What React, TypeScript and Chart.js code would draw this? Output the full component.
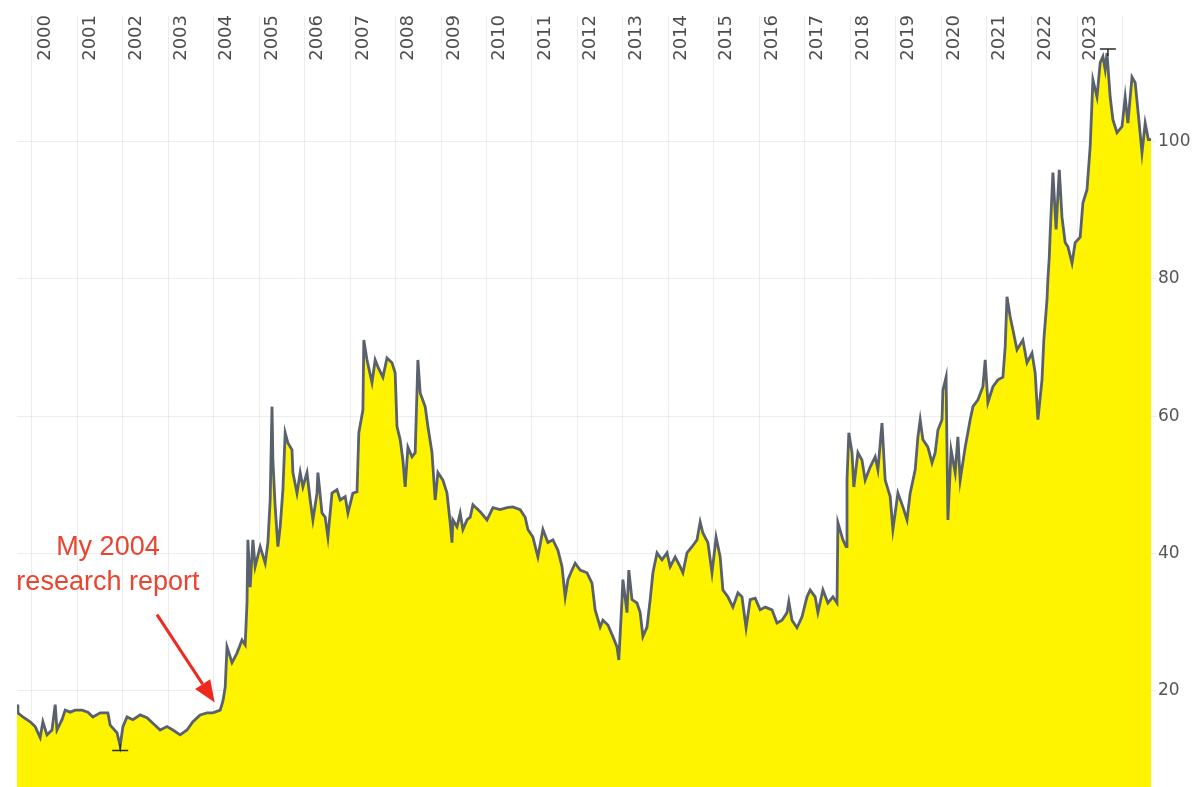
import React, { useEffect, useRef } from "react";
import { Chart, registerables } from "chart.js";

Chart.register(...registerables);

// ---- data (decimal year, price) ----
const dates: number[] = [
  1999.67, 1999.69, 1999.8, 1999.96, 2000.07, 2000.18, 2000.24, 2000.33, 2000.44, 2000.51,
  2000.55, 2000.66, 2000.73, 2000.84, 2000.95, 2001.1, 2001.23, 2001.34, 2001.5, 2001.67,
  2001.72, 2001.87, 2001.94, 2002.0, 2002.09, 2002.22, 2002.38, 2002.53, 2002.66, 2002.82,
  2002.97, 2003.1, 2003.26, 2003.41, 2003.54, 2003.7, 2003.85, 2003.98, 2004.14, 2004.2,
  2004.25, 2004.29, 2004.4, 2004.51, 2004.62, 2004.69, 2004.73, 2004.75, 2004.8, 2004.86,
  2004.91, 2005.02, 2005.13, 2005.19, 2005.24, 2005.28, 2005.3, 2005.35, 2005.41, 2005.46,
  2005.52, 2005.57, 2005.63, 2005.72, 2005.74, 2005.83, 2005.9, 2005.96, 2006.05, 2006.12,
  2006.18, 2006.27, 2006.29, 2006.38, 2006.45, 2006.51, 2006.6, 2006.71, 2006.78, 2006.89,
  2006.95, 2007.06, 2007.15, 2007.19, 2007.28, 2007.3, 2007.37, 2007.48, 2007.55, 2007.61,
  2007.72, 2007.81, 2007.92, 2007.99, 2008.03, 2008.1, 2008.16, 2008.21, 2008.27, 2008.36,
  2008.43, 2008.49, 2008.54, 2008.65, 2008.71, 2008.8, 2008.87, 2008.93, 2009.04, 2009.13,
  2009.2, 2009.24, 2009.26, 2009.35, 2009.42, 2009.48, 2009.57, 2009.64, 2009.7, 2009.86,
  2010.01, 2010.14, 2010.3, 2010.45, 2010.58, 2010.74, 2010.85, 2010.91, 2011.02, 2011.13,
  2011.24, 2011.35, 2011.46, 2011.57, 2011.66, 2011.73, 2011.79, 2011.88, 2011.95, 2012.06,
  2012.21, 2012.32, 2012.39, 2012.5, 2012.56, 2012.67, 2012.78, 2012.87, 2012.91, 2012.98,
  2013.0, 2013.09, 2013.13, 2013.2, 2013.31, 2013.38, 2013.44, 2013.53, 2013.6, 2013.66,
  2013.75, 2013.86, 2013.97, 2014.04, 2014.15, 2014.26, 2014.32, 2014.41, 2014.52, 2014.63,
  2014.7, 2014.76, 2014.87, 2014.96, 2015.05, 2015.14, 2015.2, 2015.31, 2015.42, 2015.53,
  2015.62, 2015.71, 2015.8, 2015.91, 2016.02, 2016.13, 2016.28, 2016.39, 2016.5, 2016.61,
  2016.65, 2016.72, 2016.83, 2016.94, 2017.05, 2017.12, 2017.23, 2017.29, 2017.4, 2017.51,
  2017.62, 2017.71, 2017.73, 2017.84, 2017.91, 2017.93, 2017.97, 2018.04, 2018.08, 2018.17,
  2018.26, 2018.33, 2018.44, 2018.55, 2018.61, 2018.7, 2018.77, 2018.88, 2018.94, 2019.05,
  2019.16, 2019.25, 2019.32, 2019.43, 2019.49, 2019.54, 2019.6, 2019.71, 2019.8, 2019.87,
  2019.93, 2020.02, 2020.04, 2020.11, 2020.15, 2020.22, 2020.31, 2020.37, 2020.42, 2020.53,
  2020.64, 2020.7, 2020.81, 2020.92, 2020.97, 2021.03, 2021.14, 2021.25, 2021.36, 2021.41,
  2021.45, 2021.52, 2021.58, 2021.67, 2021.8, 2021.89, 2022.0, 2022.07, 2022.13, 2022.22,
  2022.26, 2022.33, 2022.35, 2022.38, 2022.4, 2022.46, 2022.53, 2022.6, 2022.66, 2022.73,
  2022.79, 2022.88, 2022.95, 2023.06, 2023.12, 2023.21, 2023.28, 2023.34, 2023.43, 2023.5,
  2023.56, 2023.61, 2023.65, 2023.72, 2023.78, 2023.87, 2023.98, 2024.05, 2024.11, 2024.2,
  2024.27, 2024.33, 2024.42, 2024.49, 2024.56, 2024.62,
];

const prices: number[] = [
  18.0, 16.8, 16.2, 15.5, 14.8, 13.2, 15.5, 13.6, 14.3, 18.0,
  14.3, 15.8, 17.2, 16.9, 17.2, 17.2, 16.9, 16.2, 16.8, 16.8,
  15.0, 13.9, 12.0, 14.8, 16.2, 15.8, 16.5, 16.1, 15.3, 14.3,
  14.8, 14.3, 13.6, 14.3, 15.5, 16.5, 16.8, 16.8, 17.2, 18.5,
  20.5, 26.4, 24.1, 25.5, 27.4, 26.7, 32.8, 42.0, 35.1, 42.0,
  38.1, 41.0, 38.6, 41.6, 47.8, 61.4, 53.6, 46.8, 41.0, 43.9,
  49.3, 57.6, 56.1, 55.1, 51.8, 48.8, 51.8, 49.7, 51.8, 47.8,
  44.9, 48.8, 51.8, 45.9, 45.3, 42.4, 48.8, 49.3, 47.8, 48.3,
  45.9, 48.8, 49.0, 57.6, 60.9, 71.1, 68.2, 64.9, 68.2, 67.2,
  65.7, 68.5, 67.8, 66.3, 58.5, 56.6, 53.6, 49.7, 55.5, 54.1,
  54.7, 68.2, 63.4, 61.4, 58.5, 54.7, 47.8, 51.8, 50.7, 48.8,
  44.5, 41.6, 44.9, 43.9, 45.9, 43.5, 44.9, 45.3, 47.1, 46.1,
  44.9, 46.7, 46.4, 46.7, 46.8, 46.4, 45.3, 43.5, 42.4, 39.5,
  43.5, 41.6, 42.0, 40.5, 38.1, 33.7, 36.2, 37.6, 38.6, 37.6,
  37.2, 35.7, 31.8, 29.3, 30.3, 29.6, 27.9, 26.4, 24.5, 33.3,
  36.2, 31.4, 37.6, 33.3, 32.8, 31.4, 27.9, 29.3, 33.3, 37.2,
  40.1, 39.1, 40.1, 38.1, 39.5, 38.1, 37.2, 40.1, 41.0, 42.0,
  44.6, 43.0, 41.6, 37.2, 42.4, 39.5, 34.7, 33.7, 32.2, 34.3,
  33.7, 29.2, 33.3, 33.5, 31.8, 32.2, 31.8, 29.9, 30.3, 31.4,
  33.0, 30.3, 29.2, 30.8, 33.7, 34.7, 33.7, 31.4, 34.7, 32.8,
  33.7, 32.8, 44.5, 42.0, 41.0, 50.7, 57.6, 54.7, 49.7, 54.7,
  53.6, 50.7, 52.6, 54.1, 52.2, 59.0, 50.7, 48.3, 43.5, 48.8,
  46.8, 44.9, 48.8, 52.2, 57.0, 59.5, 56.6, 55.5, 53.2, 54.7,
  58.0, 59.5, 63.8, 65.7, 44.9, 55.1, 51.8, 57.0, 50.7, 55.5,
  59.5, 61.4, 62.4, 64.3, 68.2, 62.0, 64.3, 65.3, 65.7, 70.1,
  77.4, 74.5, 72.6, 69.7, 71.1, 67.8, 69.2, 66.3, 59.5, 65.3,
  71.1, 77.0, 80.0, 83.2, 86.7, 95.5, 87.2, 95.9, 89.0, 85.3,
  84.7, 82.3, 85.3, 86.1, 91.1, 93.0, 99.3, 109.0, 106.5, 111.5,
  112.4, 110.5, 112.9, 106.5, 103.2, 101.3, 102.2, 106.5, 102.7, 109.4,
  108.6, 104.6, 98.4, 102.7, 100.3, 100.3,
];

const yearLabels: number[] = [
  2000, 2001, 2002, 2003, 2004, 2005, 2006, 2007, 2008, 2009, 2010, 2011,
  2012, 2013, 2014, 2015, 2016, 2017, 2018, 2019, 2020, 2021, 2022, 2023,
];
const gridYears: number[] = [...yearLabels, 2024];
const yTicks: number[] = [20, 40, 60, 80, 100];

// low / high markers (date, value)
const lowMark = { date: 2001.94, value: 11.3 };
const highMark = { date: 2023.67, value: 113.5 };

// annotation (in data units)
const noteLines: string[] = ["My 2004", "research report"];
const noteDate = 2001.67;
const noteValues: number[] = [39.8, 34.7];
const arrowFrom = { date: 2002.75, value: 31.1 };
const arrowTo = { date: 2004.02, value: 18.3 };

const overlay = {
  id: "overlay",
  afterDraw(chart: any) {
    const ctx = chart.ctx as CanvasRenderingContext2D;
    const xs = chart.scales.x;
    const ys = chart.scales.y;

    // year labels, rotated
    ctx.save();
    ctx.fillStyle = "#4d4d4d";
    ctx.font = '18px "DejaVu Sans"';
    ctx.textAlign = "right";
    ctx.textBaseline = "middle";
    for (const yr of yearLabels) {
      const px = xs.getPixelForValue(yr) + 13;
      ctx.save();
      ctx.translate(px, 15);
      ctx.rotate(-Math.PI / 2);
      ctx.fillText(String(yr), 0, 0);
      ctx.restore();
    }
    ctx.restore();

    // low / high markers
    ctx.save();
    ctx.strokeStyle = "#2b2b2b";
    ctx.lineWidth = 1.5;
    const drawMark = (m: { date: number; value: number }, dir: number) => {
      const px = xs.getPixelForValue(m.date);
      const py = ys.getPixelForValue(m.value);
      ctx.beginPath();
      ctx.moveTo(px - 8, py);
      ctx.lineTo(px + 8, py);
      ctx.moveTo(px, py);
      ctx.lineTo(px, py + dir * 7);
      ctx.stroke();
    };
    drawMark(lowMark, -1);
    drawMark(highMark, 1);
    ctx.restore();

    // annotation text
    ctx.save();
    ctx.fillStyle = "#e8442f";
    ctx.font = '27px "Liberation Sans"';
    ctx.textAlign = "center";
    ctx.textBaseline = "alphabetic";
    noteLines.forEach((t, i) => {
      ctx.fillText(t, xs.getPixelForValue(noteDate), ys.getPixelForValue(noteValues[i]));
    });
    ctx.restore();

    // arrow
    const x1 = xs.getPixelForValue(arrowFrom.date);
    const y1 = ys.getPixelForValue(arrowFrom.value);
    const x2 = xs.getPixelForValue(arrowTo.date);
    const y2 = ys.getPixelForValue(arrowTo.value);
    const ang = Math.atan2(y2 - y1, x2 - x1);
    const headLen = 22;
    const headHalf = 9;
    const bx = x2 - headLen * Math.cos(ang);
    const by = y2 - headLen * Math.sin(ang);
    ctx.save();
    ctx.strokeStyle = "#ee2a1e";
    ctx.fillStyle = "#ee2a1e";
    ctx.lineWidth = 3;
    ctx.beginPath();
    ctx.moveTo(x1, y1);
    ctx.lineTo(bx, by);
    ctx.stroke();
    ctx.beginPath();
    ctx.moveTo(x2, y2);
    ctx.lineTo(bx + headHalf * Math.sin(ang), by - headHalf * Math.cos(ang));
    ctx.lineTo(bx - headHalf * Math.sin(ang), by + headHalf * Math.cos(ang));
    ctx.closePath();
    ctx.fill();
    ctx.restore();
  },
};

export default function App() {
  const ref = useRef<HTMLCanvasElement | null>(null);

  useEffect(() => {
    if (!ref.current) return;
    const chart = new Chart(ref.current, {
      type: "line",
      data: {
        datasets: [
          {
            data: dates.map((d, i) => ({ x: d, y: prices[i] })),
            borderColor: "#59616d",
            borderWidth: 2.8,
            backgroundColor: "#fff400",
            fill: "start",
            pointRadius: 0,
            tension: 0,
          },
        ],
      },
      options: {
        animation: false,
        responsive: false,
        events: [],
        layout: { padding: { left: 17, top: 16, right: 0, bottom: 0 } },
        plugins: { legend: { display: false }, tooltip: { enabled: false } },
        scales: {
          x: {
            type: "linear",
            min: 1999.67,
            max: 2024.64,
            z: 1,
            afterBuildTicks: (s: any) => {
              s.ticks = gridYears.map((v) => ({ value: v }));
            },
            ticks: { display: false },
            grid: { color: "rgba(0,0,0,0.07)", drawTicks: false },
            border: { display: false },
            afterFit: (s: any) => {
              s.height = 0;
              s.paddingLeft = 0;
              s.paddingRight = 0;
            },
          },
          y: {
            type: "linear",
            position: "right",
            min: 6,
            max: 118.3,
            z: 1,
            afterBuildTicks: (s: any) => {
              s.ticks = yTicks.map((v) => ({ value: v }));
            },
            ticks: {
              color: "#555555",
              font: { family: "DejaVu Sans", size: 17 },
              padding: 2,
            },
            grid: { color: "rgba(0,0,0,0.07)", tickLength: 4 },
            border: { display: false },
            afterFit: (s: any) => {
              s.width = 48;
              s.paddingTop = 0;
              s.paddingBottom = 0;
            },
          },
        },
      },
      plugins: [overlay],
    });
    return () => chart.destroy();
  }, []);

  return (
    <div style={{ position: "absolute", left: 0, top: 0, width: 1200, height: 787, background: "#ffffff" }}>
      <canvas ref={ref} width={1200} height={787} />
    </div>
  );
}
